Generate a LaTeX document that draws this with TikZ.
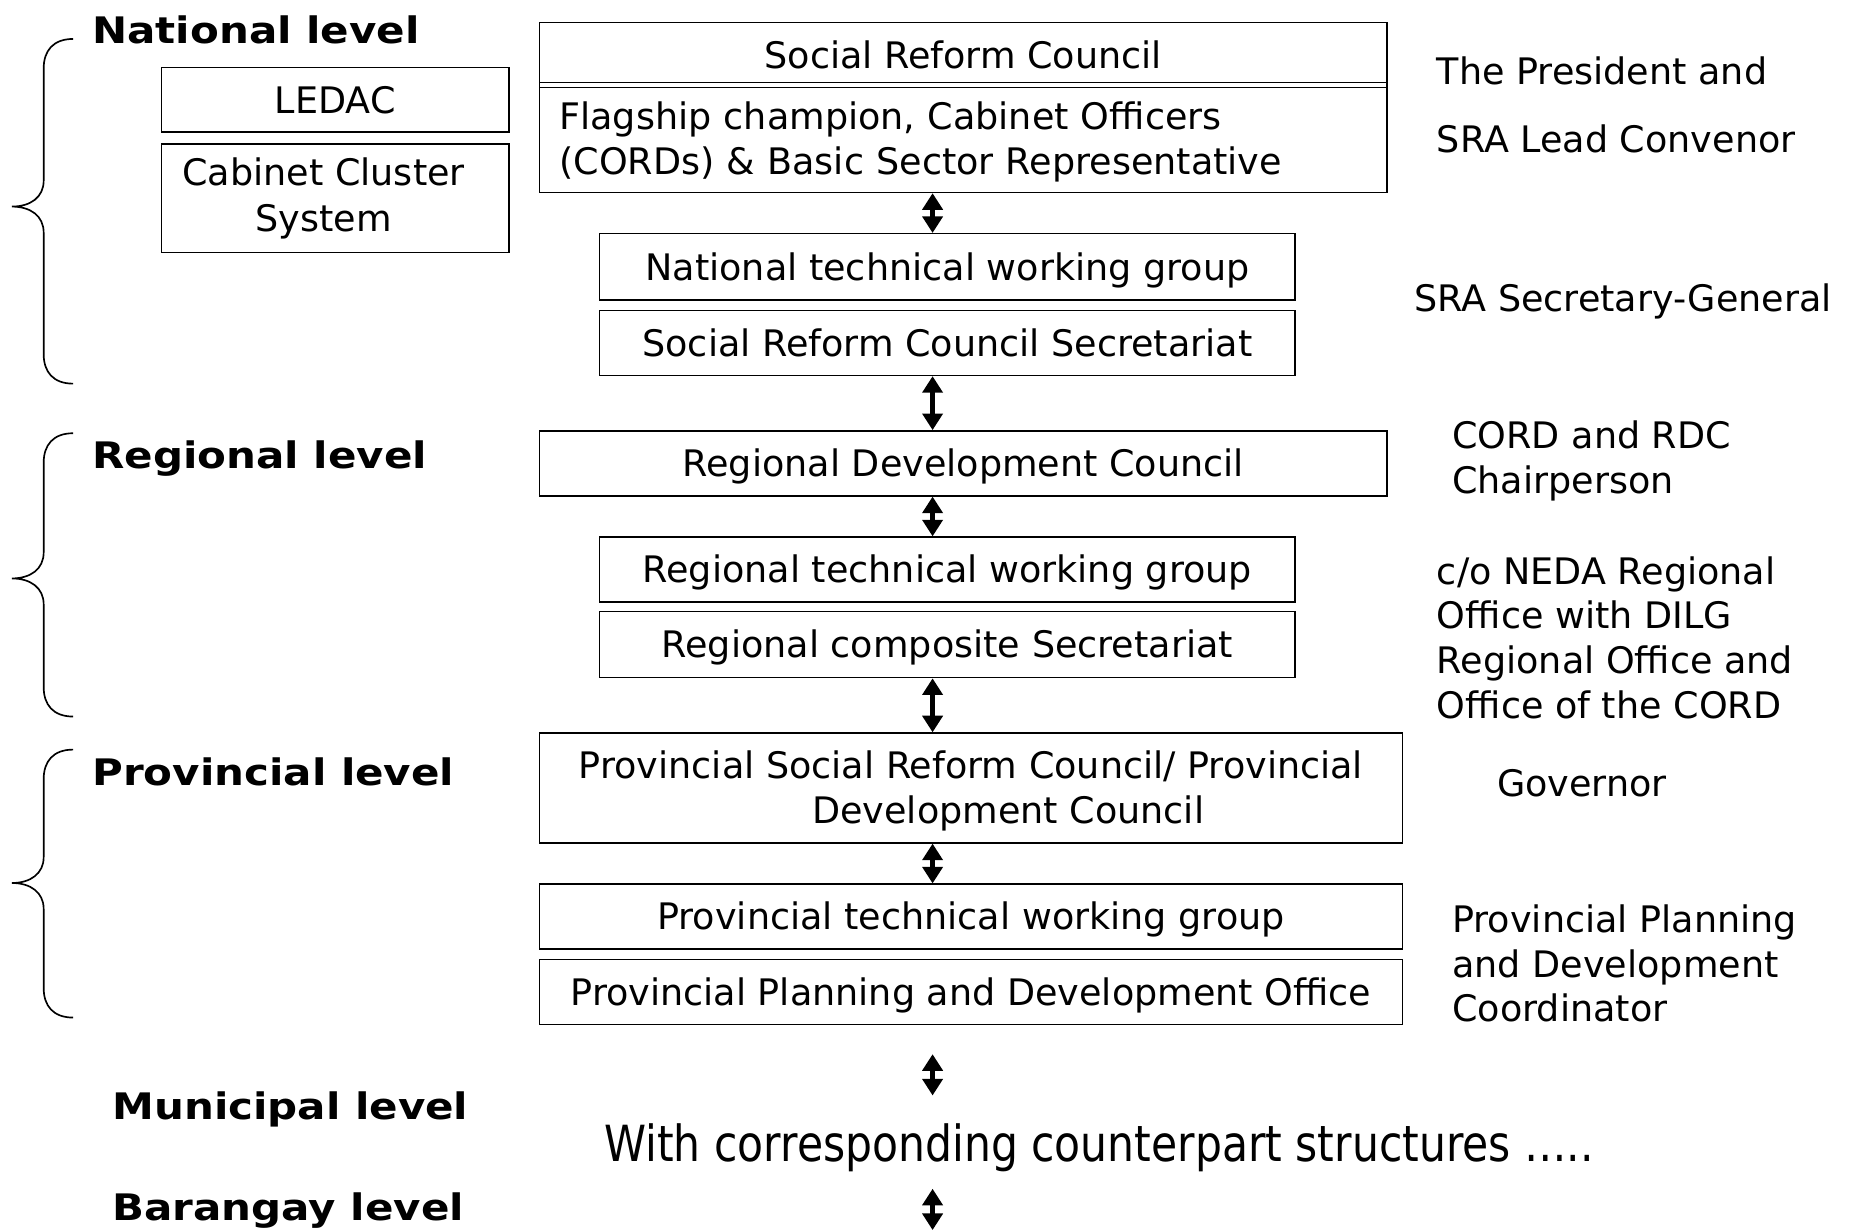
\documentclass[tikz,border=0pt]{standalone}
\usepackage{fontspec}
\setmainfont{DejaVu Sans}
\newfontfamily\levelfont[FakeStretch=1.15]{DejaVu Sans Bold}
\usetikzlibrary{positioning,arrows.meta}

% curly brace in front of each level: top, tip, bottom
\newcommand{\levelbrace}[3]{%
  \draw[line width=1pt] (62,#1) .. controls (45,#1) and (37,#1+10) .. (37,#1+25)
    -- (37,#2-22) .. controls (37,#2-8) and (26,#2) .. (10,#2)
    .. controls (26,#2) and (37,#2+8) .. (37,#2+22)
    -- (37,#3-25) .. controls (37,#3-10) and (45,#3) .. (62,#3);}

\tikzset{
  orgbox/.style={draw, line width=0.9pt, rectangle, inner sep=0pt},
  oneline/.style={orgbox, text height=16pt, text depth=0pt},
  lvl/.style={inner sep=0pt, anchor=base west, font=\fontsize{22}{27}\selectfont\levelfont},
  note/.style={inner sep=0pt, anchor=base west},
  notes/.style={inner sep=0pt, anchor=north west, align=left},
  updown/.style={line width=3pt, {Triangle[width=12pt,length=10pt]}-{Triangle[width=12pt,length=10pt]}}
}

\begin{document}
\begin{tikzpicture}[x=0.025cm, y=-0.025cm, font=\fontsize{22}{27}\selectfont]
\useasboundingbox (0,0) rectangle (1568,1043);

% national
\node[oneline, minimum width=17.95cm, minimum height=1.375cm] (src) at (816,46.5) {Social Reform Council};
\node[orgbox, text width=17.1cm, inner xsep=0.425cm, minimum height=2.325cm, align=left] (flag) at (816,116.5) {\rule{0pt}{22pt}Flagship champion, Cabinet Officers\\(CORDs) \& Basic Sector Representative};
\node[oneline, minimum width=7.35cm, minimum height=1.375cm] (ledac) at (284,84.5) {LEDAC};
\node[orgbox, minimum width=7.35cm, minimum height=2.3cm, align=center] (ccs) at (284,168) {\hspace*{-14pt}Cabinet Cluster\\[1pt]\hspace*{-14pt}System};
\node[oneline, minimum width=14.725cm, minimum height=1.4cm] (ntwg) at (802.5,226) {National technical working group};
\node[oneline, minimum width=14.725cm, minimum height=1.375cm] (srcs) at (802.5,290.5) {Social Reform Council Secretariat};

% regional
\node[oneline, minimum width=17.95cm, minimum height=1.375cm] (rdc) at (816,392.5) {Regional Development Council};
\node[oneline, minimum width=14.725cm, minimum height=1.375cm] (rtwg) at (802.5,482.5) {Regional technical working group};
\node[oneline, minimum width=14.725cm, minimum height=1.4cm] (rcs) at (802.5,546) {Regional composite Secretariat};

% provincial
\node[orgbox, minimum width=18.275cm, minimum height=2.325cm, align=center] (psrc) at (822.5,667.5) {\rule{0pt}{20pt}Provincial Social Reform Council/ Provincial\\\hspace*{45pt}Development Council};
\node[oneline, minimum width=18.275cm, minimum height=1.375cm] (ptwg) at (822.5,776.5) {Provincial technical working group};
\node[oneline, minimum width=18.275cm, minimum height=1.375cm] (ppdo) at (822.5,840.5) {Provincial Planning and Development Office};

\node[inner sep=0pt, font=\fontsize{30}{34}\selectfont] (cpart) at (931,972) {\resizebox{20.95cm}{\height}{With corresponding counterpart structures …..}};

% level names
\node[lvl] (natl) at (78,37) {National level};
\node[lvl] (regl) at (78,397) {Regional level};
\node[lvl] (provl) at (78,665) {Provincial level};
\node[lvl] (munl) at (95,948) {Municipal level};
\node[lvl] (brgyl) at (95,1034) {Barangay level};

\levelbrace{33}{175}{325}
\levelbrace{367}{490}{607}
\levelbrace{635}{748}{862}

% who chairs
\node[note] (pres) at (1217,72) {The President and};
\node[note] (lead) at (1217,129) {SRA Lead Convenor};
\node[note] (secgen) at (1198,264) {SRA Secretary-General};
\node[notes] (cord) at (1230,356) {CORD and RDC\\Chairperson};
\node[notes] (neda) at (1217,471) {c/o NEDA Regional\\Office with DILG\\Regional Office and\\Office of the CORD};
\node[note] (gov) at (1268,675) {Governor};
\node[notes] (ppdc) at (1230,766) {Provincial Planning\\and Development\\Coordinator};

% links
\coordinate (ax) at (790,0);
\draw[updown] (flag.south -| ax) -- (ntwg.north -| ax);
\draw[updown] (srcs.south -| ax) -- (rdc.north -| ax);
\draw[updown] (rdc.south -| ax) -- (rtwg.north -| ax);
\draw[updown] (rcs.south -| ax) -- (psrc.north -| ax);
\draw[updown] (psrc.south -| ax) -- (ptwg.north -| ax);
\coordinate (m1) at (790,893);
\coordinate (m2) at (790,928);
\coordinate (b1) at (790,1007);
\coordinate (b2) at (790,1042);
\draw[updown] (m1) -- (m2);
\draw[updown] (b1) -- (b2);
\end{tikzpicture}
\end{document}
